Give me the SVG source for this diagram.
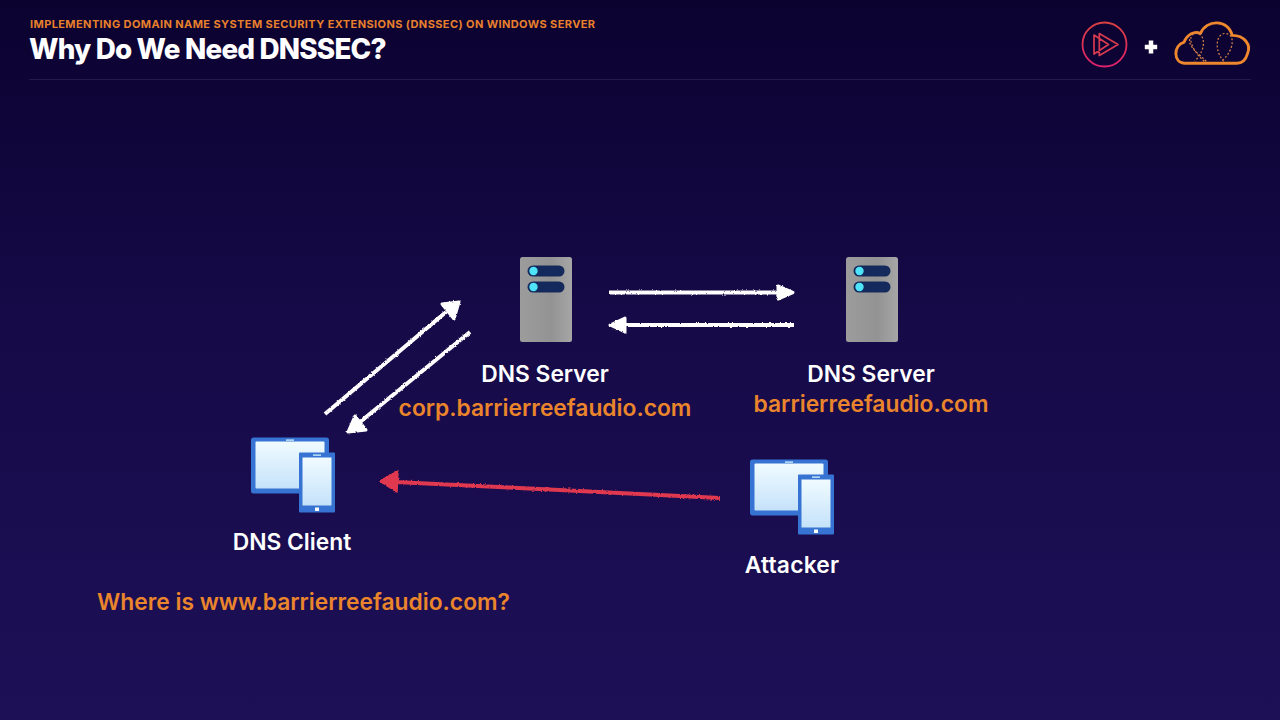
<svg xmlns="http://www.w3.org/2000/svg" xmlns:xlink="http://www.w3.org/1999/xlink" width="1280" height="720" viewBox="0 0 1280 720">
<style>
text{font-family:"Inter","Liberation Sans",sans-serif;text-anchor:middle}
.lbl{fill:#fff;font-size:22.800px;font-weight:600}
.org{fill:#ea852c;font-size:22.800px;font-weight:600}
.w{stroke:#fff;stroke-width:4;fill:none;stroke-linecap:butt}
.wh{fill:#fff;stroke:#fff;stroke-width:3;stroke-linejoin:round}
</style>
<defs>
<linearGradient id="bg" x1="0" y1="0" x2="0" y2="1"><stop offset="0" stop-color="#0b0230"/><stop offset="0.45" stop-color="#160a48"/><stop offset="1" stop-color="#1d1057"/></linearGradient>
<linearGradient id="srv" x1="0" y1="0" x2="1" y2="0"><stop offset="0" stop-color="#9c9c9c"/><stop offset="0.6" stop-color="#939393"/><stop offset="1" stop-color="#a6a6a6"/></linearGradient>
<linearGradient id="scr" x1="0" y1="0" x2="0" y2="1"><stop offset="0" stop-color="#f0fbff"/><stop offset="1" stop-color="#c5e2fa"/></linearGradient>
<linearGradient id="ps" x1="0" y1="0" x2="0" y2="1"><stop offset="0" stop-color="#d8403f"/><stop offset="1" stop-color="#e0226e"/></linearGradient>
<filter id="chalk" x="-5%" y="-30%" width="110%" height="160%" primitiveUnits="userSpaceOnUse">
<feTurbulence type="fractalNoise" baseFrequency="0.45" numOctaves="2" seed="4" result="n"/>
<feDisplacementMap in="SourceGraphic" in2="n" scale="2.600" xChannelSelector="R" yChannelSelector="G"/>
<feGaussianBlur stdDeviation="0.350"/>
</filter>
<g id="server">
<rect x="0" y="0" width="52" height="85" rx="2.500" fill="url(#srv)"/>
<rect x="7.500" y="8.500" width="37" height="11" rx="5.500" fill="#152a5c"/>
<rect x="7.500" y="24.500" width="37" height="11" rx="5.500" fill="#152a5c"/>
<circle cx="13.500" cy="14" r="4.200" fill="#4fe3f7"/>
<circle cx="13.500" cy="30" r="4.200" fill="#4fe3f7"/>
</g>
<g id="device">
<rect x="0" y="0" width="78" height="56" rx="2.500" fill="#3673d2"/>
<rect x="4.500" y="4" width="69" height="47" rx="1" fill="url(#scr)"/>
<rect x="35" y="2" width="8" height="1.200" fill="#dff"/>
<rect x="48" y="15" width="36" height="60" rx="1" fill="#3673d2"/>
<rect x="51.500" y="20" width="29" height="48" fill="url(#scr)"/>
<rect x="62" y="17" width="8" height="1.200" fill="#dff"/>
<rect x="64" y="70" width="4" height="3.500" fill="#fff"/>
</g>
</defs>
<rect width="1280" height="720" fill="url(#bg)"/>
<g id="header">
<text x="30" y="27.500" style="text-anchor:start;font-size:11px;font-weight:700;letter-spacing:.4px" fill="#e8802c">IMPLEMENTING DOMAIN NAME SYSTEM SECURITY EXTENSIONS (DNSSEC) ON WINDOWS SERVER</text>
<text x="29" y="59" style="text-anchor:start;font-size:27.800px;font-weight:800;letter-spacing:-.8px" fill="#fff">Why Do We Need DNSSEC?</text>
<rect x="29" y="79" width="1222" height="1" fill="#251a50"/>
</g>
<g id="logo-play">
<circle cx="1104.500" cy="44.500" r="22" fill="none" stroke="url(#ps)" stroke-width="1.800"/>
<path d="M1099.300 33.500 L1118 44.500 L1099.300 55.500 Z M1094 35 L1108.500 44.500 L1094 54 Z" fill="none" stroke="#d83a50" stroke-width="1.700" stroke-linejoin="round"/>
</g>
<g id="plus"><path d="M1151 40.500 V53.500 M1144.800 47 H1157.200" stroke="#fff" stroke-width="4.500" fill="none"/></g>
<g id="logo-cloud" transform="translate(1212 44) scale(.96 .96) translate(-1212 -44)">
<path d="M1183 64 C1172 63 1171 46 1183 42 C1186 34 1194 30 1200 33 C1206 18 1229 18 1233 35 C1246 35 1253 45 1249 54 C1247 61 1243 64 1238 64 Z" fill="none" stroke="#ee872e" stroke-width="3" stroke-linejoin="round"/>
<g fill="none" stroke="#d8844a" stroke-width="1.300" stroke-dasharray="2 2">
<path d="M1204 62 C1190 50 1186 35 1194 33 C1204 31 1208 48 1194 62"/>
<path d="M1206 62 C1198 54 1186 46 1189 38"/>
<path d="M1224 62 C1214 50 1216 33 1226 33 C1236 33 1236 50 1222 62"/>
</g>
</g>
<g id="connectors">
<g filter="url(#chalk)">
<path class="w" d="M609 292.500 H780"/><path class="wh" d="M778 286 L793 292.500 L778 299 Z"/>
<path class="w" d="M794 325 H625"/><path class="wh" d="M625 318 L610 325 L625 332 Z"/>
<path class="w" d="M325 414 L446 312"/><path class="wh" d="M442 304 L459 302 L454 319 Z"/>
<path class="w" d="M470 332 L360 422"/><path class="wh" d="M355 416 L348 432 L366 430 Z"/>
<path d="M720 498 L395 482" stroke="#e0394f" stroke-width="4" fill="none"/><path d="M398 471 L380 481 L397 492 Z" fill="#e0394f" stroke="#e0394f" stroke-width="1.500" stroke-linejoin="round"/>
</g>
</g>
<g id="node-dns-server-corp">
<use href="#server" x="520" y="257"/>
<text class="lbl" x="545" y="381.500">DNS Server</text>
<text class="org" x="545" y="415.500">corp.barrierreefaudio.com</text>
</g>
<g id="node-dns-server-root">
<use href="#server" x="846" y="257"/>
<text class="lbl" x="871" y="381.500">DNS Server</text>
<text class="org" x="871" y="411.500">barrierreefaudio.com</text>
</g>
<g id="node-dns-client">
<use href="#device" x="251" y="437.500"/>
<text class="lbl" x="292" y="549.500">DNS Client</text>
<text class="org" x="303.500" y="610">Where is www.barrierreefaudio.com?</text>
</g>
<g id="node-attacker">
<use href="#device" x="750" y="459.500"/>
<text class="lbl" x="792" y="572.500" style="letter-spacing:.2px">Attacker</text>
</g>
</svg>
